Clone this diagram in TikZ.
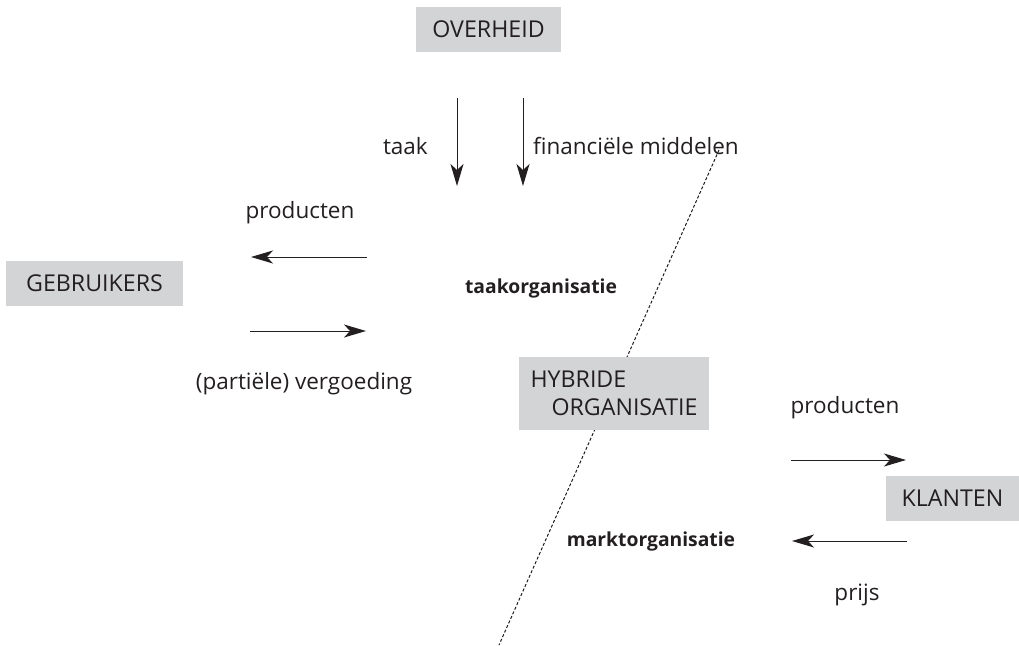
\documentclass[tikz,border=0pt]{standalone}
\usepackage{fontspec}
\setmainfont{Open Sans}[Ligatures=NoCommon]
\usetikzlibrary{arrows.meta}
\definecolor{boxgray}{HTML}{D3D4D6}
\definecolor{ink}{HTML}{231F20}
\begin{document}
\begin{tikzpicture}[x=1pt,y=-1pt,
  every node/.style={text=ink,font=\fontsize{22.5}{27}\selectfont,inner sep=0pt},
  actor/.style={fill=boxgray,anchor=center,font=\fontsize{23.2}{28}\selectfont},
  flow/.style={draw=ink,line width=1pt,-{Stealth[length=22pt,width=13pt,inset=6pt]}},
  lbl/.style={},
  boldlbl/.style={font=\fontsize{19.3}{23}\selectfont\bfseries}]
\useasboundingbox (0,0) rectangle (1019,645);
% dashed divider
\coordinate (dtop) at (719,150);
\coordinate (dbot) at (499,645);
\draw[ink,line width=1pt,dash pattern=on 3pt off 2pt] (dtop) -- (dbot);
% actors
\node[actor,minimum width=145pt,minimum height=45pt] (overheid) at (488.5,29.5) {OVERHEID};
\node[actor,minimum width=177pt,minimum height=45pt] (gebruikers) at (94.5,283.5) {GEBRUIKERS};
\node[actor,minimum width=133pt,minimum height=45pt] (klanten) at (952.5,498.5) {KLANTEN};
\node[actor,minimum width=190pt,minimum height=73pt,align=left] (hybride) at (614,393.5) {HYBRIDE\\\hspace*{21pt}ORGANISATIE};
% organisation labels
\node[boldlbl] (taakorg) at (541,288) {taakorganisatie};
\node[boldlbl] (marktorg) at (651,541) {marktorganisatie};
% arrow end coordinates
\coordinate (t1) at (457,98); \coordinate (t2) at (457,186);
\coordinate (f1) at (523,98); \coordinate (f2) at (523,186);
\coordinate (pl1) at (367,257); \coordinate (pl2) at (251,257);
\coordinate (vl1) at (250,331); \coordinate (vl2) at (366,331);
\coordinate (pr1) at (791,460); \coordinate (pr2) at (906,460);
\coordinate (pj1) at (907,541); \coordinate (pj2) at (792,541);
\draw[flow] (t1) -- (t2);
\draw[flow] (f1) -- (f2);
\draw[flow] (pl1) -- (pl2);
\draw[flow] (vl1) -- (vl2);
\draw[flow] (pr1) -- (pr2);
\draw[flow] (pj1) -- (pj2);
% flow labels
\node[lbl,anchor=east] (taak) at (428,146) {taak};
\node[lbl,anchor=west] (fin) at (533,146) {financiële middelen};
\node[lbl] (prodl) at (300,213) {producten};
\node[lbl] (verg) at (304,384) {(partiële) vergoeding};
\node[lbl] (prodr) at (845,408) {producten};
\node[lbl] (prijs) at (857,595) {prijs};
\end{tikzpicture}
\end{document}
